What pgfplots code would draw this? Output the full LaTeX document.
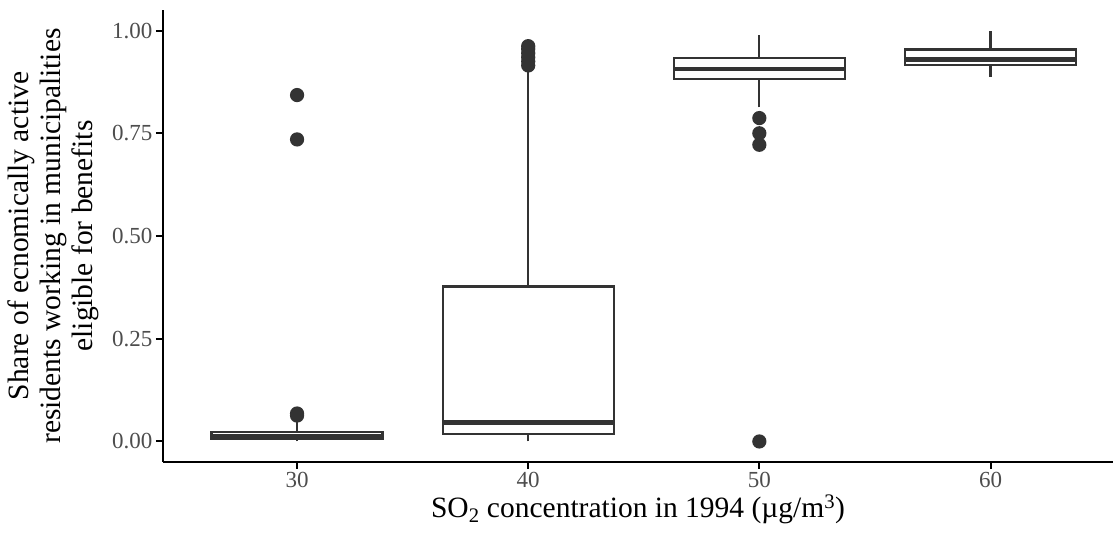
\documentclass[border=0pt]{standalone}
\usepackage{pgfplots}
\pgfplotsset{compat=1.18}
\usetikzlibrary{calc}
\usepackage{fontspec}
\setmainfont{Liberation Serif}
\definecolor{boxc}{HTML}{333333}
\definecolor{tickc}{HTML}{4D4D4D}
\begin{document}
\begin{tikzpicture}
\begin{axis}[name=ax, scale only axis, width=950pt, height=452pt,
 xmin=24.2, xmax=65.3, ymin=-0.05, ymax=1.05,
 axis lines=left, axis line style={-, line width=2.2pt, black},
 xtick={30,40,50,60}, ytick={0,0.25,0.5,0.75,1},
 tick align=outside, major tick length=7pt, tick style={line width=2pt, black},
 tick label style={font=\fontsize{23}{26}\selectfont, text=tickc},
 yticklabel style={/pgf/number format/.cd, fixed, fixed zerofill, precision=2},
 /pgf/number format/assume math mode=true,
 label style={font=\fontsize{29.5}{32}\selectfont},
 ylabel={Share of ecnomically active\\residents working in municipalities\\eligible for benefits},
 ylabel style={align=center},
 ylabel shift=6pt,
 xlabel={SO\textsubscript{2} concentration in 1994 (µg/m\textsuperscript{3})},
 every axis plot/.append style={boxc, line width=2.2pt},
]
% group 30
\addplot[boxc, line width=2.2pt] coordinates {(30,0)(30,0.005)};
\addplot[boxc, line width=2.2pt] coordinates {(30,0.023)(30,0.05)};
\addplot[boxc, line width=2.2pt, fill=white] coordinates {(26.3,0.005)(33.7,0.005)(33.7,0.023)(26.3,0.023)} -- cycle;
\addplot[boxc, line width=4.5pt] coordinates {(26.3,0.012)(33.7,0.012)};
% group 40
\addplot[boxc, line width=2.2pt] coordinates {(40,0)(40,0.019)};
\addplot[boxc, line width=2.2pt] coordinates {(40,0.377)(40,0.91)};
\addplot[boxc, line width=2.2pt, fill=white] coordinates {(36.3,0.019)(43.7,0.019)(43.7,0.377)(36.3,0.377)} -- cycle;
\addplot[boxc, line width=4.5pt] coordinates {(36.3,0.046)(43.7,0.046)};
% group 50
\addplot[boxc, line width=2.2pt] coordinates {(50,0.813)(50,0.883)};
\addplot[boxc, line width=2.2pt] coordinates {(50,0.934)(50,0.99)};
\addplot[boxc, line width=2.2pt, fill=white] coordinates {(46.3,0.883)(53.7,0.883)(53.7,0.934)(46.3,0.934)} -- cycle;
\addplot[boxc, line width=4.5pt] coordinates {(46.3,0.907)(53.7,0.907)};
% group 60
\addplot[boxc, line width=2.2pt] coordinates {(60,0.888)(60,0.917)};
\addplot[boxc, line width=2.2pt] coordinates {(60,0.954)(60,1.0)};
\addplot[boxc, line width=2.2pt, fill=white] coordinates {(56.3,0.917)(63.7,0.917)(63.7,0.954)(56.3,0.954)} -- cycle;
\addplot[boxc, line width=4.5pt] coordinates {(56.3,0.929)(63.7,0.929)};
% outliers
\addplot[only marks, mark=*, mark size=6pt, mark options={fill=boxc, draw=none}]
 coordinates {(30,0.063)(30,0.068)(30,0.735)(30,0.843)
 (40,0.915)(40,0.925)(40,0.935)(40,0.945)(40,0.955)(40,0.962)
 (50,0.787)(50,0.75)(50,0.722)(50,0)};
\end{axis}
\pgfresetboundingbox
\path[use as bounding box] ($(ax.south west)+(-163pt,-75pt)$) rectangle ($(ax.north east)+(0pt,10pt)$);
\end{tikzpicture}
\end{document}
